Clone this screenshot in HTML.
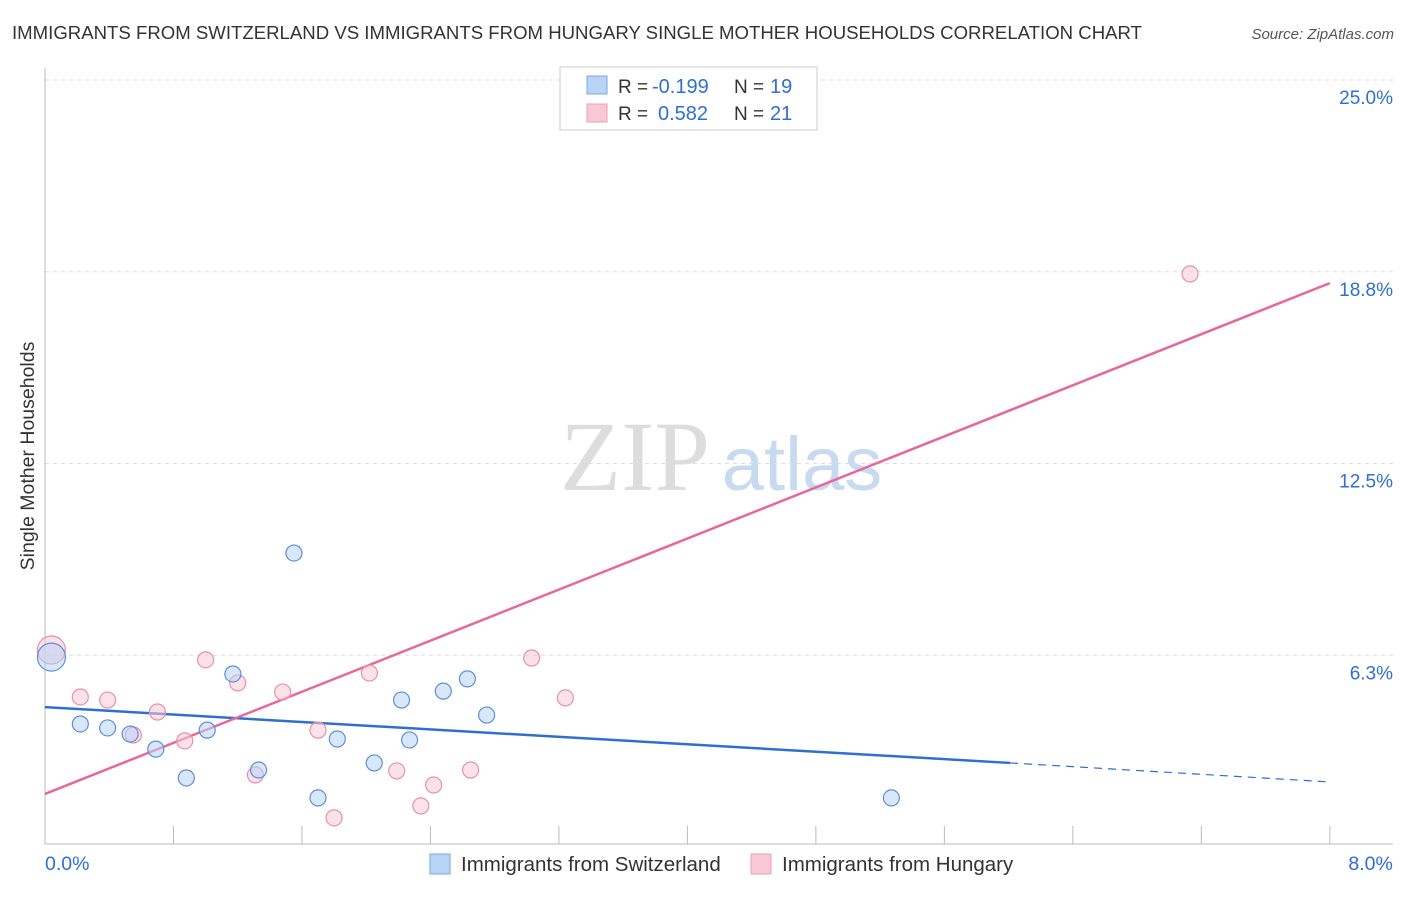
<!DOCTYPE html>
<html><head><meta charset="utf-8"><style>
body{margin:0;background:#fff;font-family:"Liberation Sans",sans-serif;}
</style></head><body>
<svg id="chart" width="1406" height="892" xmlns="http://www.w3.org/2000/svg" font-family="Liberation Sans, sans-serif">
<text x="12" y="39" font-size="18.6" fill="#333" textLength="1130" lengthAdjust="spacingAndGlyphs">IMMIGRANTS FROM SWITZERLAND VS IMMIGRANTS FROM HUNGARY SINGLE MOTHER HOUSEHOLDS CORRELATION CHART</text>
<text x="1394" y="39" font-size="15" fill="#555" text-anchor="end" font-style="italic">Source: ZipAtlas.com</text>
<text transform="translate(34,456) rotate(-90)" font-size="19.5" fill="#333" text-anchor="middle">Single Mother Households</text>
<g>
<text x="635" y="490" font-size="100" fill="#ddd" font-family="Liberation Serif, serif" text-anchor="middle">ZIP</text>
<text x="802" y="490" font-size="76" fill="#c8daf0" text-anchor="middle">atlas</text>
</g>
<g id="grid"></g><g id="axes"></g><g id="lines"></g><g id="pts"></g>
<g>
<rect x="560" y="67" width="257" height="63" fill="#fff" stroke="#ccc"/>
<rect x="587" y="76" width="20" height="18" fill="#b8d4f5" stroke="#7aa7e0"/>
<text x="618" y="93" font-size="19" fill="#333">R =</text>
<text x="652" y="93" font-size="20" fill="#2f6fd0">-0.199</text>
<text x="734" y="93" font-size="19" fill="#333">N =</text>
<text x="770" y="93" font-size="20" fill="#2f6fd0">19</text>
<rect x="587" y="104" width="20" height="18" fill="#f8c8d6" stroke="#eaa0b6"/>
<text x="618" y="120" font-size="19" fill="#333">R =</text>
<text x="658" y="120" font-size="20" fill="#2f6fd0">0.582</text>
<text x="734" y="120" font-size="19" fill="#333">N =</text>
<text x="770" y="120" font-size="20" fill="#2f6fd0">21</text>
</g>
<g>
<rect x="430" y="854" width="20" height="20" fill="#b8d4f5" stroke="#7aa7e0"/>
<text x="461" y="871" font-size="20.5" fill="#333">Immigrants from Switzerland</text>
<rect x="751" y="854" width="20" height="20" fill="#f8c8d6" stroke="#eaa0b6"/>
<text x="782" y="871" font-size="20.5" fill="#333">Immigrants from Hungary</text>
</g>
</svg>
<script>
const blueX=[0.04,0.22,0.39,0.53,0.69,0.88,1.01,1.17,1.33,1.55,1.70,1.82,2.05,2.22,2.27,2.48,2.63,2.75,5.27];
const blueY=[6.19,4.01,3.88,3.68,3.19,2.25,3.81,5.64,2.51,9.58,1.60,3.52,2.74,4.79,3.49,5.08,5.48,4.30,1.60];
const pinkX=[0.04,0.22,0.39,0.55,0.70,0.87,1.00,1.20,1.31,1.48,1.70,1.80,2.02,2.19,2.34,2.42,2.65,3.03,3.24,7.13];
const pinkY=[6.42,4.89,4.79,3.65,4.40,3.46,6.10,5.35,2.35,5.05,3.81,0.95,5.67,2.48,1.34,2.02,2.51,6.16,4.86,18.68];
const yTicks=[25.0,18.8,12.5,6.3];
const yTickLabels=["25.0%","18.8%","12.5%","6.3%"];
const xTickLabels=["0.0%","8.0%"];
const blueLine=[4.56,2.74,2.12];
const pinkLine=[1.73,18.38];
const NS="http://www.w3.org/2000/svg";
const X=v=>45+v*160.6, Y=v=>847-v*30.68;
function mk(p,t,a){const e=document.createElementNS(NS,t);for(const k in a)e.setAttribute(k,a[k]);document.getElementById(p).appendChild(e);return e;}
const gv=[25,18.75,12.5,6.25];
yTicks.forEach((t,i)=>{
 const l=mk('grid','line',{x1:45,x2:1393,y1:Y(gv[i]),y2:Y(gv[i]),stroke:'#ddd','stroke-dasharray':'4,4'});
 
 
 const tx=mk('grid','text',{x:1393,y:Y(gv[i])+24,'font-size':19,fill:'#2f6fd0','text-anchor':'end'});
 tx.textContent=yTickLabels[i];
 
 
});
const ax=mk('axes','line',{x1:45,x2:1393,y1:844,y2:844,stroke:'#bbb'});


const ay=mk('axes','line',{x1:45,x2:45,y1:68,y2:844,stroke:'#bbb'});


for(let i=1;i<=10;i++){const t=mk('axes','line',{x1:X(i*0.8),x2:X(i*0.8),y1:826,y2:844,stroke:'#bbb'});
 
 }
[[X(0),'start'],[X(8)+63,'end']].forEach((p,i)=>{const t=mk('axes','text',{x:p[0],y:870,'font-size':19.5,fill:'#2f6fd0','text-anchor':p[1]});
 t.textContent=xTickLabels[i];
 
 });
function pts(xs,ys,fill,stroke,name){xs.forEach((x,i)=>{const c=mk('pts','circle',{cx:X(x),cy:Y(ys[i]),r:i==0?14:8,fill:fill,'fill-opacity':0.55,stroke:stroke,'stroke-width':1.2});
 
 });}
pts(pinkX,pinkY,'#f8c8d6','#e890ab','hungary-point');
pts(blueX,blueY,'#b8d4f5','#5c8fd8','switzerland-point');
const b1=mk('lines','line',{x1:X(0),y1:Y(blueLine[0]),x2:X(6.01),y2:Y(blueLine[1]),stroke:'#2f6fd0','stroke-width':2.5});


const b2=mk('lines','line',{x1:X(6.01),y1:Y(blueLine[1]),x2:X(8),y2:Y(blueLine[2]),stroke:'#2f6fd0','stroke-width':1.2,'stroke-dasharray':'8,6'});


const p1=mk('lines','line',{x1:X(0),y1:Y(pinkLine[0]),x2:X(8),y2:Y(pinkLine[1]),stroke:'#e8679a','stroke-width':2.5});


</script>
</body></html>
